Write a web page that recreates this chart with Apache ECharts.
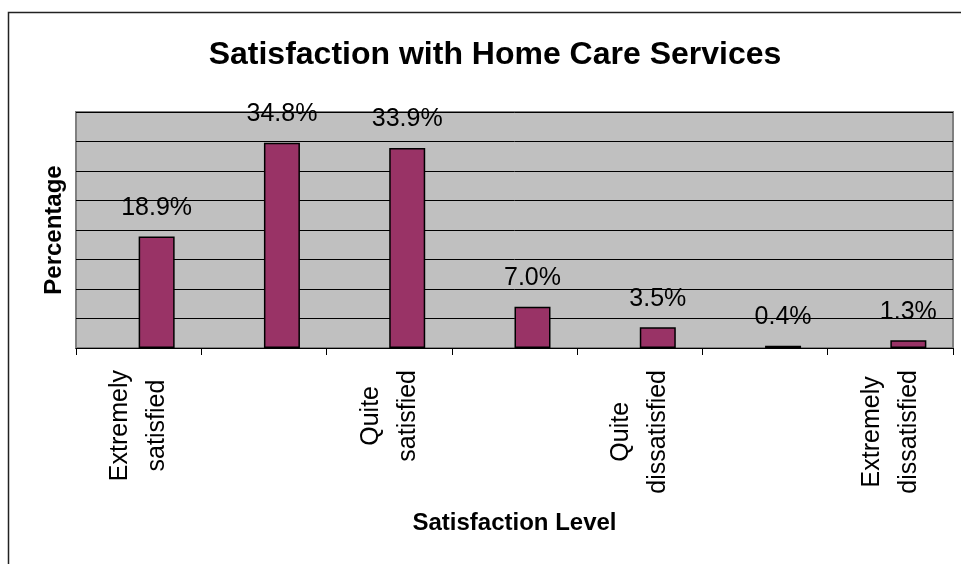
<!DOCTYPE html>
<html>
<head>
<meta charset="utf-8">
<script src="https://cdn.jsdelivr.net/npm/echarts@6/dist/echarts.min.js"></script>
<style>
  html, body { margin: 0; padding: 0; background: #fff; }
  #main { width: 961px; height: 564px; }
</style>
</head>
<body>
<div id="main"></div>
<script>
// categories (only every other one gets a label, like in the original)
var categories = [
  'Extremely satisfied',
  'Very satisfied',
  'Quite satisfied',
  'Neither satisfied nor dissatisfied',
  'Quite dissatisfied',
  'Very dissatisfied',
  'Extremely dissatisfied'
];
var percentages = [18.9, 34.8, 33.9, 7.0, 3.5, 0.4, 1.3];
var yTicks = [0, 5, 10, 15, 20, 25, 30, 35, 40];

var font = 'Liberation Sans, Arial, sans-serif';
var chart = echarts.init(document.getElementById('main'));

chart.setOption({
  animation: false,
  title: {
    text: 'Satisfaction with Home Care Services',
    left: 490,
    textAlign: 'center',
    top: 34,
    textStyle: { fontFamily: font, fontSize: 32, fontWeight: 'bold', color: '#000' }
  },
  graphic: [{
    type: 'rect',
    shape: { x: 8.5, y: 12.5, width: 1000, height: 600 },
    style: { fill: 'none', stroke: '#222', lineWidth: 1.5 },
    silent: true
  }],
  grid: {
    left: 76, right: 8, top: 112, bottom: 216,
    show: true,
    backgroundColor: '#C0C0C0',
    borderColor: '#808080',
    borderWidth: 2
  },
  xAxis: {
    type: 'category',
    data: categories,
    boundaryGap: true,
    name: 'Satisfaction Level',
    nameLocation: 'middle',
    nameGap: 163,
    nameTextStyle: { fontFamily: font, fontSize: 24, fontWeight: 'bold', color: '#000' },
    axisLine: { lineStyle: { color: '#000', width: 1 } },
    axisTick: { show: true, interval: 0, length: 7, lineStyle: { color: '#000' } },
    axisLabel: {
      interval: 1,
      rotate: 90,
      margin: 22,
      formatter: function (v) {
        return v.split(' ').map(function (w) { return '{c|' + w + '}'; }).join('\n');
      },
      rich: {
        c: { align: 'center', fontFamily: font, fontSize: 25, lineHeight: 37, color: '#000' }
      }
    }
  },
  yAxis: {
    type: 'value',
    min: yTicks[0],
    max: yTicks[yTicks.length - 1],
    interval: 5,
    name: 'Percentage',
    nameLocation: 'middle',
    nameGap: 10,
    nameTextStyle: { fontFamily: font, fontSize: 24, fontWeight: 'bold', color: '#000' },
    axisLine: { show: false },
    axisTick: { show: false },
    axisLabel: { show: false },
    splitLine: { lineStyle: { color: '#000', width: 1 } }
  },
  series: [{
    // empty slot: the original is a clustered chart, so the bar sits right of centre
    type: 'bar',
    data: [],
    barWidth: 36,
    barGap: '0%'
  }, {
    type: 'bar',
    data: percentages,
    barWidth: 36,
    barGap: '0%',
    itemStyle: { color: '#993366', borderColor: '#000', borderWidth: 1.5 },
    label: {
      show: true,
      position: 'top',
      distance: 16,
      formatter: function (p) { return p.value.toFixed(1) + '%'; },
      fontFamily: font,
      fontSize: 25,
      color: '#000'
    }
  }]
});
</script>
</body>
</html>
